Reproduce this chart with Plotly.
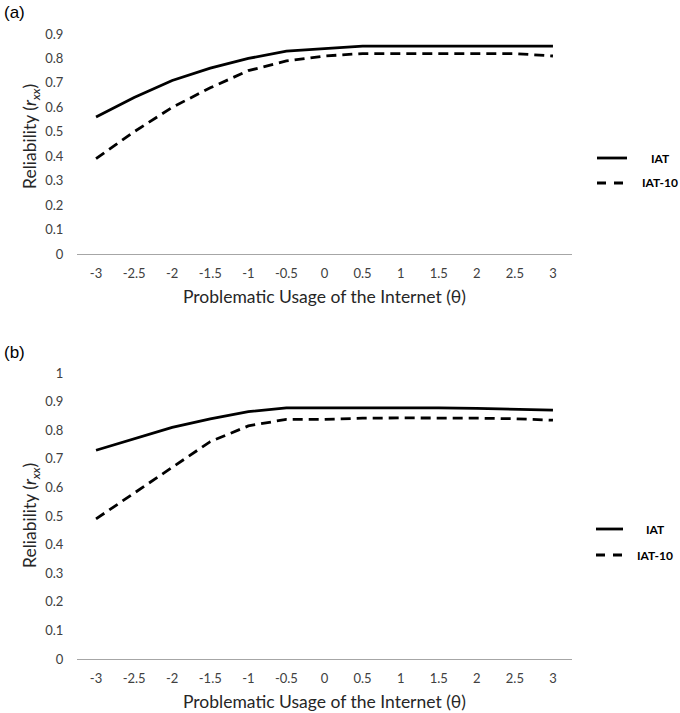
import plotly.graph_objects as go

theta = [-3, -2.5, -2, -1.5, -1, -0.5, 0, 0.5, 1, 1.5, 2, 2.5, 3]
tick_labels = ["-3", "-2.5", "-2", "-1.5", "-1", "-0.5", "0", "0.5", "1", "1.5", "2", "2.5", "3"]

# Panel (a)
a_iat = [0.56, 0.64, 0.71, 0.76, 0.80, 0.83, 0.84, 0.85, 0.85, 0.85, 0.85, 0.85, 0.85]
a_iat10 = [0.39, 0.50, 0.60, 0.68, 0.75, 0.79, 0.81, 0.82, 0.82, 0.82, 0.82, 0.82, 0.81]
# Panel (b)
b_iat = [0.73, 0.77, 0.81, 0.84, 0.865, 0.878, 0.878, 0.879, 0.88, 0.878, 0.876, 0.872, 0.87]
b_iat10 = [0.49, 0.58, 0.67, 0.76, 0.815, 0.838, 0.838, 0.842, 0.843, 0.843, 0.842, 0.84, 0.835]

a_yticks = [0, 0.1, 0.2, 0.3, 0.4, 0.5, 0.6, 0.7, 0.8, 0.9]
b_yticks = [0, 0.1, 0.2, 0.3, 0.4, 0.5, 0.6, 0.7, 0.8, 0.9, 1]

W, H = 680, 713
L, R = 77, 572

def py(pix):
    return (H - pix) / H

def px(pix):
    return (pix - L) / (R - L)

fig = go.Figure()
fig.add_trace(go.Scatter(x=theta, y=a_iat, mode="lines", line=dict(color="black", width=2.8),
                         xaxis="x", yaxis="y", showlegend=False))
fig.add_trace(go.Scatter(x=theta, y=a_iat10, mode="lines", line=dict(color="black", width=2.8, dash="10px,6px"),
                         xaxis="x", yaxis="y", showlegend=False))
fig.add_trace(go.Scatter(x=theta, y=b_iat, mode="lines", line=dict(color="black", width=2.8),
                         xaxis="x2", yaxis="y2", showlegend=False))
fig.add_trace(go.Scatter(x=theta, y=b_iat10, mode="lines", line=dict(color="black", width=2.8, dash="10px,6px"),
                         xaxis="x2", yaxis="y2", showlegend=False))

tickfont = dict(family="Lato, Open Sans, sans-serif", size=13, color="#404040")
titlefont = dict(family="Lato, Open Sans, sans-serif", size=17.5, color="#262626")

def xaxis(anchor):
    return dict(domain=[0, 1], range=[-3.25, 3.25], anchor=anchor, tickmode="array",
                tickvals=theta, ticktext=tick_labels, showgrid=False, zeroline=False,
                showline=True, linecolor="#a6a6a6", linewidth=1.2,
                ticks="outside", ticklen=7, tickcolor="rgba(0,0,0,0)", tickfont=tickfont,
                title=dict(text="Problematic Usage of the Internet (θ)", font=titlefont, standoff=11))

def yaxis(anchor, dom, rng, vals):
    return dict(domain=dom, range=rng, anchor=anchor, tickmode="array", tickvals=vals,
                ticktext=[("%g" % v) for v in vals], showgrid=False, zeroline=False,
                showline=False, ticks="outside", ticklen=10, tickcolor="rgba(0,0,0,0)",
                tickfont=tickfont)

fig.update_layout(
    width=W, height=H,
    margin=dict(l=L, r=W - R, t=0, b=0, autoexpand=False),
    paper_bgcolor="white", plot_bgcolor="white",
    xaxis=xaxis("y"),
    yaxis=yaxis("x", [py(254), py(34)], [0, 0.9], a_yticks),
    xaxis2=xaxis("y2"),
    yaxis2=yaxis("x2", [py(659), py(373)], [0, 1], b_yticks),
)

# y-axis titles
for ypix in [137, 516]:
    fig.add_annotation(text="Reliability (<i>r<sub>xx</sub></i>)", xref="paper", yref="paper",
                       x=px(31), y=py(ypix), textangle=-90, xanchor="center", yanchor="middle",
                       showarrow=False, font=titlefont)

# panel labels
for txt, ypix in [("(a)", 12), ("(b)", 352)]:
    fig.add_annotation(text=txt, xref="paper", yref="paper", x=px(2), y=py(ypix),
                       xanchor="left", yanchor="middle", showarrow=False,
                       font=dict(family="Liberation Sans, Arial", size=17, color="black"))

# legends
legs = [(158, 183, 597, 627, 660), (529, 555, 596, 623, 655)]
for (y1, y2, xs, xe, xc) in legs:
    for ypix, name, dash in [(y1, "IAT", None), (y2, "IAT-10", "9px,8px")]:
        fig.add_shape(type="line", xref="paper", yref="paper", x0=px(xs), x1=px(xe),
                      y0=py(ypix), y1=py(ypix), line=dict(color="black", width=2.8, dash=dash))
        fig.add_annotation(text="<b>%s</b>" % name, xref="paper", yref="paper", x=px(xc), y=py(ypix),
                           xanchor="center", yanchor="middle", showarrow=False,
                           font=dict(family="Lato, sans-serif", size=12, color="black"))

fig.write_html("out.html", config={"displayModeBar": False},
               post_script="document.body.style.margin='0px';")
